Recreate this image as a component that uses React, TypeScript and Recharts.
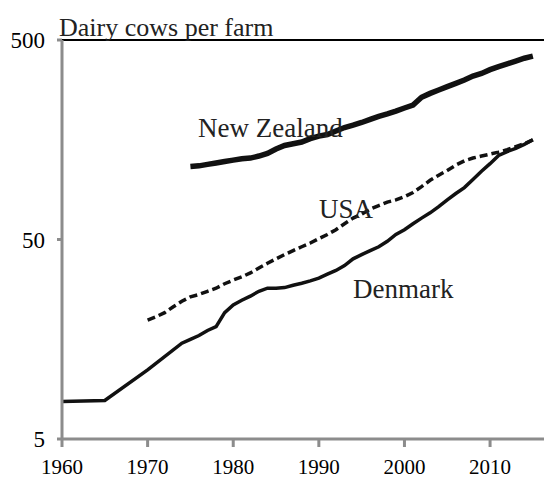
import React from 'react';
import { LineChart, Line, XAxis, YAxis, ReferenceLine } from 'recharts';

const years = [
  1960, 1961, 1962, 1963, 1964, 1965, 1966, 1967, 1968, 1969,
  1970, 1971, 1972, 1973, 1974, 1975, 1976, 1977, 1978, 1979,
  1980, 1981, 1982, 1983, 1984, 1985, 1986, 1987, 1988, 1989,
  1990, 1991, 1992, 1993, 1994, 1995, 1996, 1997, 1998, 1999,
  2000, 2001, 2002, 2003, 2004, 2005, 2006, 2007, 2008, 2009,
  2010, 2011, 2012, 2013, 2014, 2015,
];

const denmark = [
  7.7, null, null, null, null, 7.8, null, null, null, null,
  11.1, null, null, null, 15.1, 15.8, 16.5, 17.5, 18.3, 21.5,
  23.5, 24.8, 26, 27.5, 28.5, 28.5, 28.7, 29.5, 30.2, 31,
  32, 33.5, 35, 37, 40, 42, 44, 46, 49, 53,
  56, 60, 64, 68, 73, 79, 85, 91, 100, 110,
  120, 132, 138, 143, 150, 158,
];

const usa = [
  null, null, null, null, null, null, null, null, null, null,
  19.7, 20.5, 21.5, 23, 24.5, 25.8, 26.5, 27.5, 28.5, 30,
  31.3, 32.5, 34, 36, 38, 40, 42, 44, 46, 48,
  50.5, 53, 56, 60, 64, 67, 71, 74, 77, 79,
  82, 86, 92, 99, 105, 111, 118, 124, 128, 131,
  134, 137, 141, 146, 151, 158,
];

const newZealand = [
  null, null, null, null, null, null, null, null, null, null,
  null, null, null, null, null, 116, 117, 119, 121, 123,
  125, 127, 128, 131, 135, 142, 148, 151, 154, 160,
  165, 168, 175, 182, 187, 193, 200, 207, 213, 220,
  228, 236, 258, 270, 281, 292, 303, 315, 330, 340,
  355, 368, 380, 392, 405, 415,
];

const xTicks = [1960, 1970, 1980, 1990, 2000, 2010];
const yTicks = [5, 50, 500];

const data = years.map((year, i) => ({
  year,
  denmark: denmark[i],
  usa: usa[i],
  newZealand: newZealand[i],
}));

const serif = "'Liberation Serif', 'Times New Roman', serif";
const axisGrey = '#8c8c8c';

export default function App() {
  return (
    <div style={{ position: 'absolute', left: 0, top: 0, width: 544, height: 480, overflow: 'hidden', background: '#fff' }}>
      <LineChart width={544} height={480} data={data} margin={{ top: 40, right: 0, bottom: 0, left: 0 }}>
        <XAxis
          dataKey="year"
          type="number"
          domain={[1960, 2016.3]}
          ticks={xTicks}
          height={41}
          stroke={axisGrey}
          strokeWidth={3}
          tickSize={8}
          tickMargin={12}
          tick={{ fill: '#000', fontSize: 21, fontFamily: serif }}
          allowDataOverflow
        />
        <YAxis
          type="number"
          scale="log"
          domain={[5, 500]}
          ticks={yTicks}
          width={62}
          stroke={axisGrey}
          strokeWidth={3}
          tickSize={5}
          tickMargin={12}
          tick={{ fill: '#000', fontSize: 23, fontFamily: serif }}
          allowDataOverflow
        />
        <ReferenceLine y={500} stroke="#000" strokeWidth={2} />
        <Line type="linear" dataKey="usa" stroke="#111" strokeWidth={3.5} strokeDasharray="8 4" dot={false} connectNulls isAnimationActive={false} />
        <Line type="linear" dataKey="denmark" stroke="#111" strokeWidth={3.5} dot={false} connectNulls isAnimationActive={false} />
        <Line type="linear" dataKey="newZealand" stroke="#111" strokeWidth={5.5} dot={false} connectNulls isAnimationActive={false} />
      </LineChart>
      <svg width={544} height={480} style={{ position: 'absolute', left: 0, top: 0, pointerEvents: 'none' }}>
        <g fontFamily={serif} fill="#222">
          <text x={59} y={36} fontSize={26}>Dairy cows per farm</text>
          <text x={198} y={137} fontSize={27}>New Zealand</text>
          <text x={319} y={218} fontSize={27}>USA</text>
          <text x={353} y={298} fontSize={27}>Denmark</text>
        </g>
      </svg>
    </div>
  );
}
